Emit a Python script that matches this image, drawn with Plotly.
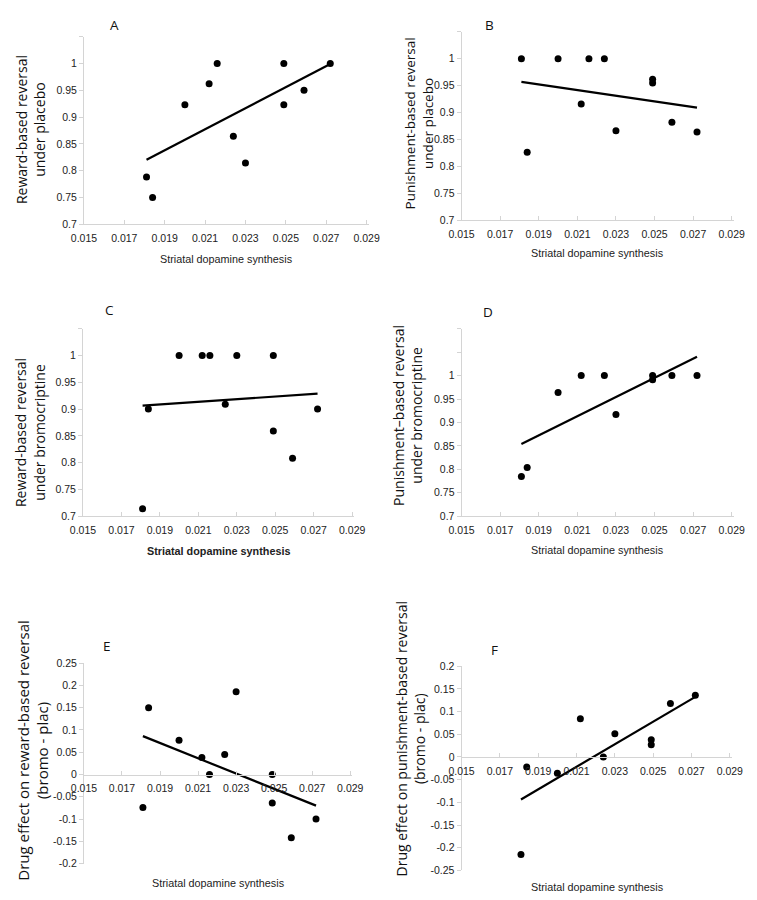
import numpy as np
import plotly.graph_objects as go

W, H = 757, 900
PAGE_MARGIN = 8  # the html body margin shifts the figure on the page

# Striatal dopamine synthesis per subject (same subjects in every panel)
dopa = [0.0181, 0.0184, 0.0200, 0.0212, 0.0216, 0.0224, 0.0230, 0.0249, 0.0249, 0.0259, 0.0272]
# punishment under bromocriptine is missing one subject (x = 0.0216)
dopa_pb = [0.0181, 0.0184, 0.0200, 0.0212, 0.0224, 0.0230, 0.0249, 0.0249, 0.0259, 0.0272]

reward_placebo = [0.788, 0.750, 0.923, 0.962, 1.000, 0.864, 0.814, 1.000, 0.923, 0.950, 1.000]
punish_placebo = [1.000, 0.826, 1.000, 0.916, 1.000, 1.000, 0.866, 0.962, 0.955, 0.882, 0.864]
reward_bromo = [0.714, 0.900, 1.000, 1.000, 1.000, 0.909, 1.000, 1.000, 0.859, 0.808, 0.900]
punish_bromo = [0.785, 0.804, 0.964, 1.000, 1.000, 0.917, 1.000, 0.991, 1.000, 1.000]
reward_diff = [-0.074, 0.150, 0.077, 0.038, 0.000, 0.045, 0.186, 0.000, -0.064, -0.142, -0.100]
punish_diff = [-0.215, -0.022, -0.036, 0.084, 0.000, 0.051, 0.038, 0.027, 0.118, 0.136]

x_ticks = [0.015, 0.017, 0.019, 0.021, 0.023, 0.025, 0.027, 0.029]
y_ticks_prop = [0.7, 0.75, 0.8, 0.85, 0.9, 0.95, 1.0]
y_ticks_e = [-0.2, -0.15, -0.1, -0.05, 0, 0.05, 0.1, 0.15, 0.2, 0.25]
y_ticks_f = [-0.25, -0.2, -0.15, -0.1, -0.05, 0, 0.05, 0.1, 0.15, 0.2]

X_TITLE = "Striatal dopamine synthesis"

# (letter, x data, y data, y title, y range, labelled y ticks, extra unlabelled ticks)
PANELS = [
    ("A", dopa, reward_placebo, "Reward-based reversal<br>under placebo", [0.7, 1.05], y_ticks_prop, [1.05]),
    ("B", dopa, punish_placebo, "Punishment-based reversal<br>under placebo", [0.7, 1.05], y_ticks_prop, [1.05]),
    ("C", dopa, reward_bromo, "Reward-based reversal<br>under bromocriptine", [0.7, 1.05], y_ticks_prop, [1.05]),
    ("D", dopa_pb, punish_bromo, "Punishment\u2013based reversal<br>under bromocriptine", [0.7, 1.1], y_ticks_prop, [1.05, 1.1]),
    ("E", dopa, reward_diff, "Drug effect on reward-based reversal<br>(bromo - plac)", [-0.2, 0.25], y_ticks_e, []),
    ("F", dopa_pb, punish_diff, "Drug effect on punishment-based reversal<br>(bromo - plac)", [-0.25, 0.2], y_ticks_f, []),
]

# page-pixel layout: plot box (left, right, top, bottom), letter pos, x-title pos, y-title pos/size
BOXES = [
    dict(box=(73, 367, 31, 221), letter=(105, 12), xt=(220, 256), yt=(18, 125), ysize=14, zero=False, bold=False),
    dict(box=(463, 744, 26, 217), letter=(492, 9), xt=(603, 250), yt=(419, 119), ysize=13.5, zero=False, bold=False),
    dict(box=(72, 352, 327, 517), letter=(99, 308), xt=(212, 552), yt=(17, 432), ysize=14, zero=False, bold=True),
    dict(box=(463, 744, 327, 517), letter=(490, 310), xt=(603, 551), yt=(407, 415), ysize=14, zero=False, bold=False),
    dict(box=(73, 350, 666, 869), letter=(97, 649), xt=(212, 889), yt=(20, 755), ysize=15, zero=True, bold=False),
    dict(box=(463, 742, 669, 876), letter=(497, 653), xt=(603, 893), yt=(410, 743), ysize=14, zero=True, bold=False),
]

AXIS_GREY = "#d4d4d4"
TICK_FONT = dict(family="Liberation Sans", size=10.5, color="#222222")
LETTER_SIZE = 13.5


def fx(p):
    return (p - PAGE_MARGIN) / W


def fy(p):
    return 1 - (p - PAGE_MARGIN) / H


def label(v):
    return "0" if v == 0 else f"{v:g}"


fig = go.Figure()
layout = {}
annotations = []

for i, ((letter, xs, ys, ytitle, yrange, yt, extra), geo) in enumerate(zip(PANELS, BOXES), start=1):
    l, r, t, b = geo["box"]
    xa, ya = f"x{i}", f"y{i}"

    fig.add_trace(go.Scatter(
        x=xs, y=ys, mode="markers", xaxis=xa, yaxis=ya,
        marker=dict(size=7, color="black"),
        hoverinfo="x+y",
    ))

    # least-squares trend line over the data span
    slope, icpt = np.polyfit(xs, ys, 1)
    x_line = [min(xs), max(xs)]
    fig.add_trace(go.Scatter(
        x=x_line, y=[slope * v + icpt for v in x_line],
        mode="lines", xaxis=xa, yaxis=ya,
        line=dict(color="black", width=2.2),
        hoverinfo="skip",
    ))

    ydom = [fy(b), fy(t)]
    xaxis = dict(
        domain=[fx(l), fx(r)], range=[0.015, 0.0291],
        tickvals=x_ticks, ticktext=[f"{v:.3f}" for v in x_ticks],
        showline=True, linecolor=AXIS_GREY, linewidth=1,
        ticks="inside", ticklen=4, tickcolor=AXIS_GREY,
        ticklabelstandoff=4,
        showgrid=False, zeroline=False, tickfont=TICK_FONT,
        anchor=ya,
    )
    if geo["zero"]:
        # x axis crosses at y = 0
        frac = (0 - yrange[0]) / (yrange[1] - yrange[0])
        xaxis.update(anchor="free", position=ydom[0] + frac * (ydom[1] - ydom[0]))
    layout[f"xaxis{i}"] = xaxis

    yvals = list(yt) + list(extra)
    layout[f"yaxis{i}"] = dict(
        domain=ydom, range=yrange,
        tickvals=yvals, ticktext=[label(v) for v in yt] + [""] * len(extra),
        showline=True, linecolor=AXIS_GREY, linewidth=1,
        ticks="outside", ticklen=4, tickcolor=AXIS_GREY,
        showgrid=False, zeroline=False, tickfont=TICK_FONT,
        anchor=xa,
    )

    lx, ly = geo["letter"]
    letter_ann = dict(
        text=letter, x=fx(lx), y=fy(ly), xref="paper", yref="paper",
        showarrow=False, xanchor="center", yanchor="middle",
        font=dict(family="Open Sans", size=LETTER_SIZE, color="#111111"),
    )
    if ly - PAGE_MARGIN < LETTER_SIZE * 0.7:
        # keep the letter inside the figure's top edge
        letter_ann.update(y=1.0, yanchor="top")
    annotations.append(letter_ann)

    tx, ty = geo["xt"]
    annotations.append(dict(
        text=f"<b>{X_TITLE}</b>" if geo["bold"] else X_TITLE,
        x=fx(tx), y=fy(ty), xref="paper", yref="paper",
        showarrow=False, xanchor="center", yanchor="middle",
        font=dict(family="Liberation Sans", size=10.8, color="#222222"),
    ))

    yx, yy = geo["yt"]
    annotations.append(dict(
        text=ytitle, x=fx(yx), y=fy(yy), xref="paper", yref="paper",
        showarrow=False, xanchor="center", yanchor="middle", textangle=-90,
        font=dict(family="Open Sans", size=geo["ysize"], color="#111111"),
    ))

fig.update_layout(
    **layout,
    annotations=annotations,
    width=W, height=H,
    margin=dict(l=0, r=0, t=0, b=0),
    showlegend=False,
    plot_bgcolor="white",
    paper_bgcolor="white",
)

fig.write_html("out.html")
